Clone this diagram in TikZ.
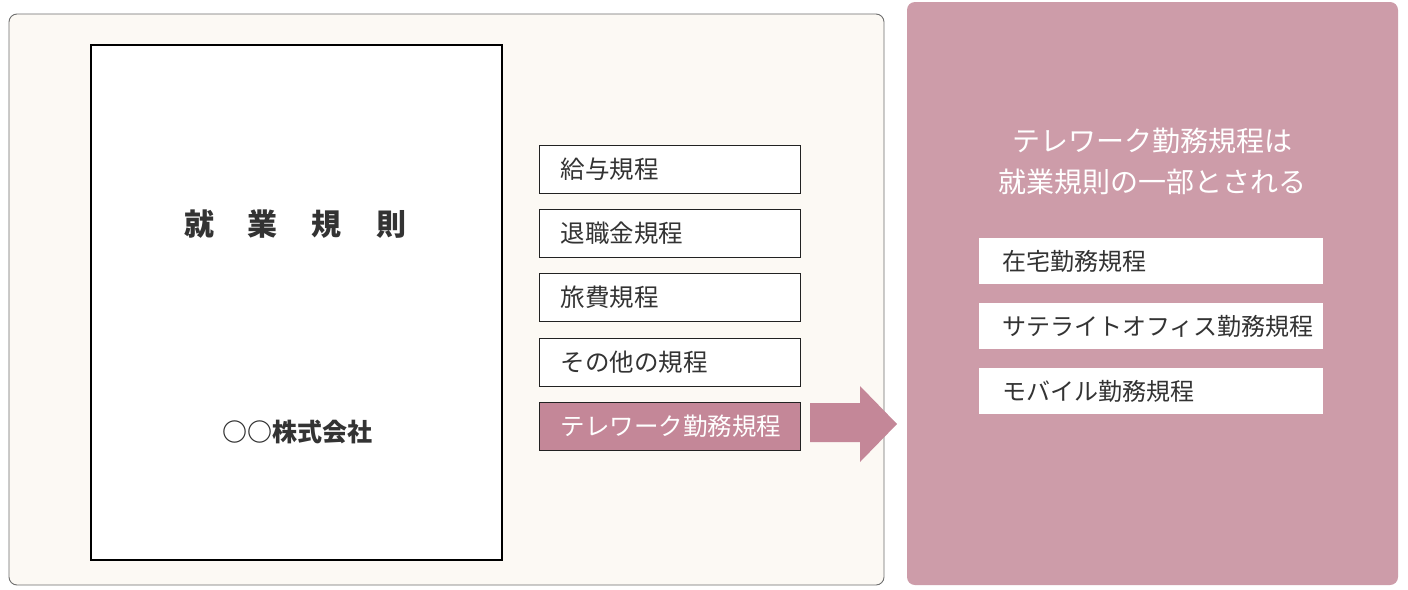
\documentclass[tikz,border=0pt]{standalone}
\usepackage{fontspec}
\newfontfamily\cjk{Noto Sans CJK JP}
\definecolor{cream}{HTML}{FCF9F4}
\definecolor{panelpink}{HTML}{CD9CA9}
\definecolor{darkpink}{HTML}{C48798}
\definecolor{ink}{HTML}{333333}
\definecolor{boxline}{HTML}{222222}
\definecolor{rim}{HTML}{6E6E6E}
\begin{document}
\begin{tikzpicture}[x=1pt,y=-1pt,font=\cjk,
  panel/.style={anchor=north west,inner sep=0pt,outer sep=0pt,rounded corners=8pt},
  rule/.style={anchor=north west,draw=boxline,line width=1.2pt,fill=white,minimum width=261pt,minimum height=48pt,
    inner xsep=21pt,inner ysep=0pt,text width=219pt,align=left,text=ink,font=\cjk\fontsize{24.5}{28}\selectfont},
  subrule/.style={anchor=north west,fill=white,minimum width=344pt,minimum height=46pt,
    inner xsep=23pt,inner ysep=0pt,text width=298pt,align=left,text=ink,font=\cjk\fontsize{24}{28}\selectfont}]
\useasboundingbox (0,0) rectangle (1408,589);
\fill[white] (0,0) rectangle (1408,589);
% left panel
\node[panel,draw=rim,line width=0.9pt,fill=cream,minimum width=875pt,minimum height=571pt] (left) at (9,14) {};
% right panel
\node[panel,fill=panelpink,minimum width=491pt,minimum height=583pt] (right) at (907,2) {};
% big document
\node[anchor=north west,draw=black,line width=1.5pt,fill=white,minimum width=411pt,minimum height=515pt,inner sep=0pt] (doc) at (90,44) {};
\node[text=ink,font=\cjk\bfseries\fontsize{30}{34}\selectfont] (title) at (295,224) {就\hspace{34pt}業\hspace{34pt}規\hspace{34pt}則};
\node[text=ink,font=\cjk\bfseries\fontsize{25}{30}\selectfont] (company) at (297,432) {○○株式会社};
% rule boxes
\node[rule] (r1) at (539,145) {給与規程};
\node[rule] (r2) at (539,209) {退職金規程};
\node[rule] (r3) at (539,273) {旅費規程};
\node[rule] (r4) at (539,338) {その他の規程};
\node[rule,fill=darkpink,text=white] (tele) at (539,402) {テレワーク勤務規程};
% block arrow
\fill[darkpink] (810,403) -- (860,403) -- (860,386) -- (897,424) -- (860,462) -- (860,442) -- (810,442) -- cycle;
% right panel content
\node[text=white,align=center,font=\cjk\fontsize{28}{41}\selectfont] (head) at (1152,161) {テレワーク勤務規程は\\就業規則の一部とされる};
\node[subrule] (s1) at (979,238) {在宅勤務規程};
\node[subrule] (s2) at (979,303) {サテライトオフィス勤務規程};
\node[subrule] (s3) at (979,368) {モバイル勤務規程};
\end{tikzpicture}
\end{document}
